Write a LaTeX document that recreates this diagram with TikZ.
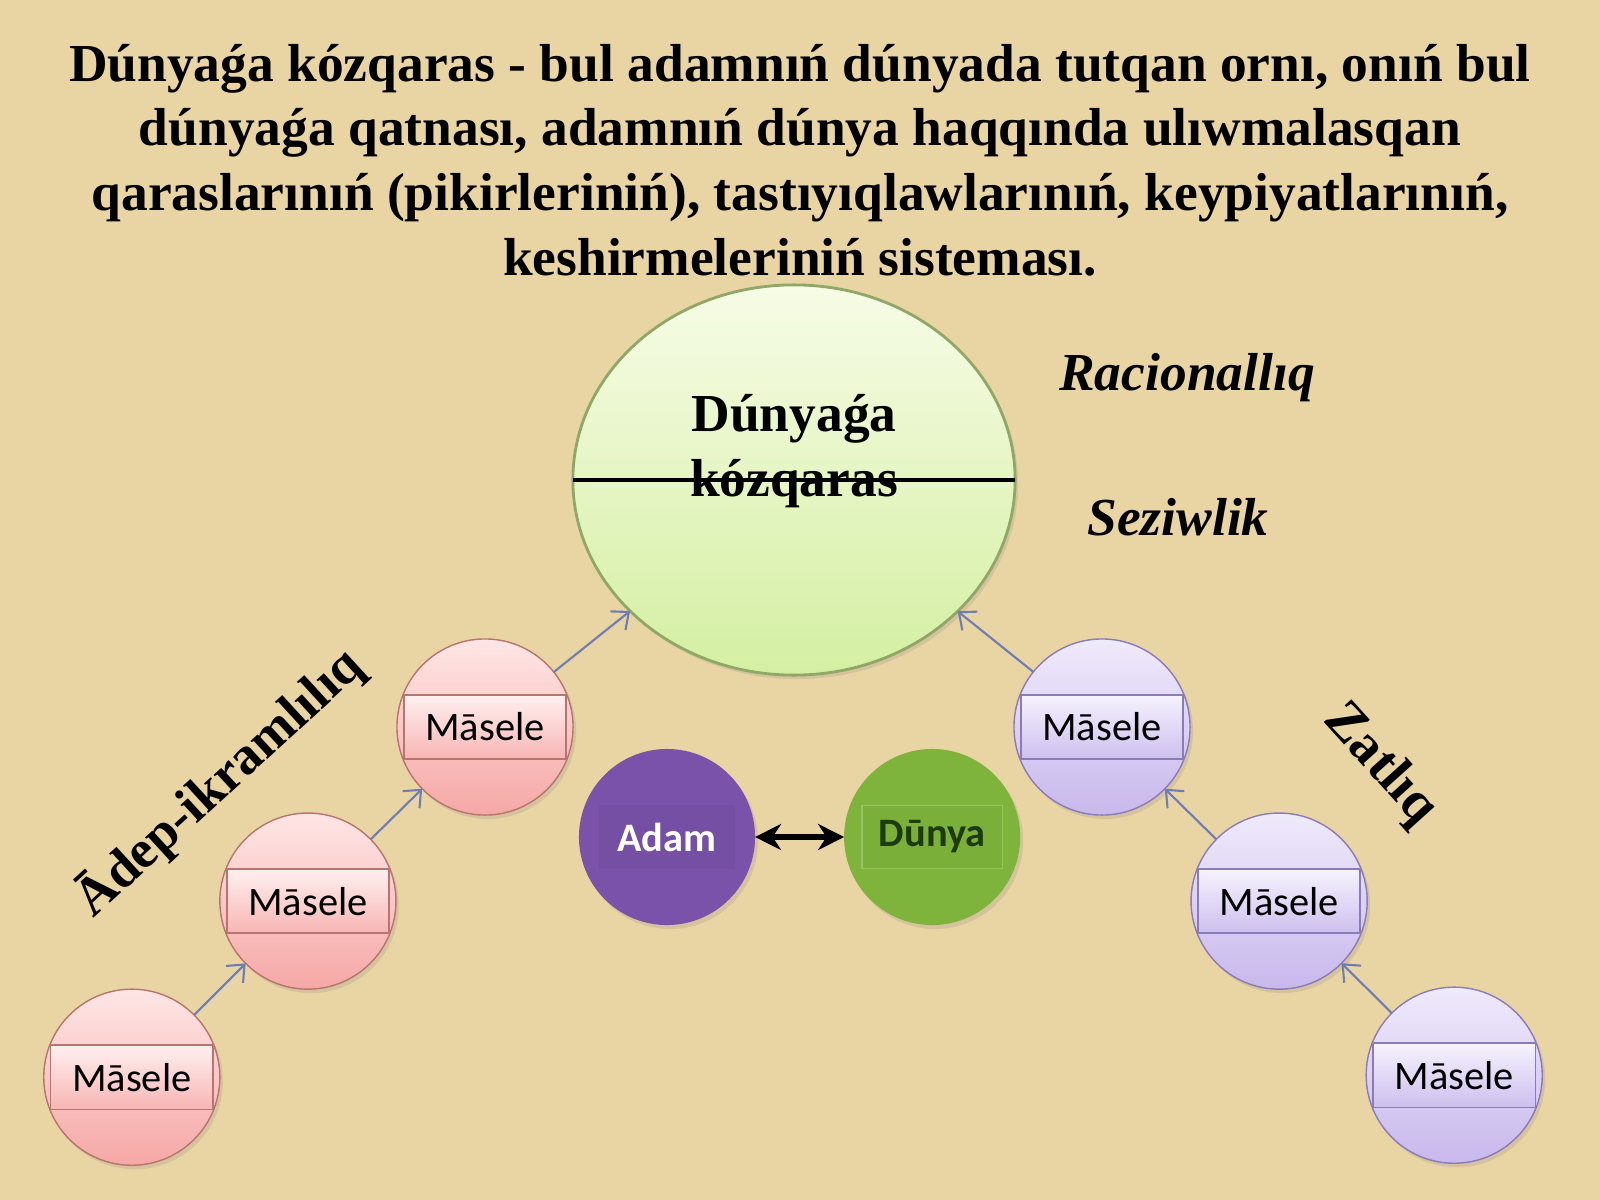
\documentclass[tikz,border=0pt]{standalone}
\usepackage{fontspec}
\setmainfont{Liberation Serif}
\newfontfamily\calibri{Carlito}
\usetikzlibrary{positioning,shapes.geometric,arrows.meta,shadows}
\definecolor{paper}{HTML}{E9D4A3}
\definecolor{pinktop}{HTML}{FFE6E6}
\definecolor{pinkbot}{HTML}{F5A8A6}
\definecolor{pinkline}{HTML}{B8746E}
\definecolor{lilactop}{HTML}{F0EAFC}
\definecolor{lilacbot}{HTML}{C8B8EC}
\definecolor{lilacline}{HTML}{8A7CB8}
\definecolor{viewtop}{HTML}{F7FCE6}
\definecolor{viewbot}{HTML}{D4EFA2}
\definecolor{viewline}{HTML}{8FA866}
\definecolor{adamfill}{HTML}{7A52AA}
\definecolor{dunyafill}{HTML}{7EB43C}
\definecolor{dunyatext}{HTML}{1E3A10}
\definecolor{linkblue}{HTML}{6E7EB4}

\begin{document}
\begin{tikzpicture}[x=0.01cm, y=-0.01cm, on grid,
    ball/.style={circle, minimum size=1.76cm, inner sep=0pt, outer sep=0pt,
                 drop shadow={opacity=0.2, shadow xshift=0.03cm, shadow yshift=-0.04cm}},
    pinkball/.style={ball, draw=pinkline, top color=pinktop, bottom color=pinkbot},
    lilacball/.style={ball, draw=lilacline, top color=lilactop, bottom color=lilacbot},
    mbox/.style={rectangle, minimum width=1.62cm, minimum height=0.64cm, inner sep=0pt,
                 font=\calibri\fontsize{11.5}{13}\selectfont},
    pinkbox/.style={mbox, draw=pinkline, top color=pinktop!60!white, bottom color=pinkbot!85!white},
    lilacbox/.style={mbox, draw=lilacline, top color=lilactop!60!white, bottom color=lilacbot!90!white},
    serif/.style={font=\bfseries\fontsize{15.2}{18.4}\selectfont, align=center},
    link/.style={draw=linkblue, line width=0.6pt, -{Straight Barb[length=1.4mm, width=2.4mm]}}]

  \path[use as bounding box, fill=paper] (0,0) rectangle (1600,1200);

  % heading
  \node[serif] (head) at (800,160) {Dúnyaǵa kózqaras - bul adamnıń dúnyada tutqan ornı, onıń bul\\
    dúnyaǵa qatnası, adamnıń dúnya haqqında ulıwmalasqan\\
    qaraslarınıń (pikirleriniń), tastıyıqlawlarınıń, keypiyatlarınıń,\\
    keshirmeleriniń sisteması.};

  % central view
  \node[ellipse, minimum width=4.42cm, minimum height=3.9cm, inner sep=0pt, outer sep=0pt,
        draw=viewline, line width=0.8pt, top color=viewtop, bottom color=viewbot,
        drop shadow={opacity=0.2, shadow xshift=0.03cm, shadow yshift=-0.04cm}] (view) at (794,480) {};
  \node[serif] (viewtext) at ([yshift=0.29cm]view.center) {Dúnyaǵa\\kózqaras};
  \draw[line width=1.4pt] (view.west) -- (view.east);

  \node[serif, font=\bfseries\itshape\fontsize{15.2}{18}\selectfont] (ratio) at (1187,378) {Racionallıq};
  \node[serif, font=\bfseries\itshape\fontsize{15.2}{18}\selectfont] (sense) at (1178,517) {Seziwlik};

  % left chain
  \node[pinkball] (l3) at (485,727) {};
  \node[pinkball, below left=1.74cm and 1.77cm of l3] (l2) {};
  \node[pinkball, below left=1.76cm and 1.76cm of l2] (l1) {};
  \node[pinkbox] (l3b) at (l3) {Māsele};
  \node[pinkbox] (l2b) at (l2) {Māsele};
  \node[pinkbox] (l1b) at (l1) {Māsele};
  \node[serif, rotate=42.5] (ethics) at (219,783) {Ādep-ikramlılıq};

  % right chain
  \node[lilacball] (r1) at (1102,727) {};
  \node[lilacball, below right=1.74cm and 1.77cm of r1] (r2) {};
  \node[lilacball, below right=1.74cm and 1.75cm of r2] (r3) {};
  \node[lilacbox] (r1b) at (r1) {Māsele};
  \node[lilacbox] (r2b) at (r2) {Māsele};
  \node[lilacbox] (r3b) at (r3) {Māsele};
  \node[serif, font=\bfseries\fontsize{15.5}{18}\selectfont, rotate=-48] (essence) at (1380,765) {Zatlıq};

  % man and world
  \node[ball, fill=adamfill] (adam) at (667,837) {};
  \node[ball, fill=dunyafill, right=2.65cm of adam] (dunya) {};
  \node[rectangle, minimum width=1.35cm, minimum height=0.64cm, fill=adamfill!96!black,
        text=white, font=\calibri\bfseries\fontsize{11.5}{13}\selectfont] (adamb) at (adam) {Adam};
  \node[rectangle, minimum width=1.4cm, minimum height=0.63cm, draw=dunyafill!80!white, fill=dunyafill!97!black,
        text=dunyatext, font=\calibri\bfseries\fontsize{11.5}{13}\selectfont] (dunyab) at (dunya) {Dūnya};

  \draw (l1) edge[link] (l2);
  \draw (l2) edge[link] (l3);
  \draw (l3) edge[link] (view);
  \draw (r3) edge[link] (r2);
  \draw (r2) edge[link] (r1);
  \draw (r1) edge[link] (view);
  \draw[line width=1.6pt, {Stealth[length=2.6mm, width=2.6mm]}-{Stealth[length=2.6mm, width=2.6mm]}] (adam) -- (dunya);
\end{tikzpicture}
\end{document}
